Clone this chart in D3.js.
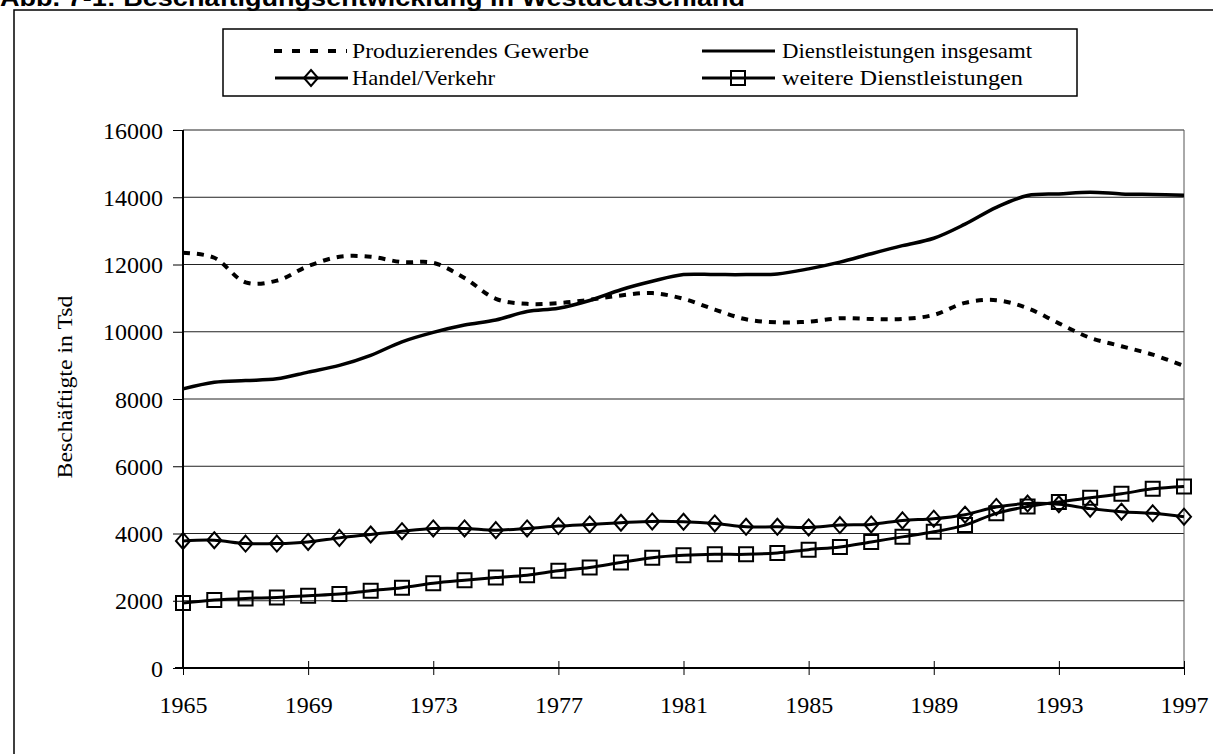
<!DOCTYPE html>
<html>
<head>
<meta charset="utf-8">
<script src="https://cdn.jsdelivr.net/npm/d3@7"></script>
<style>
  body { margin: 0; background: #fff; }
  svg { display: block; }
  text { font-family: "Liberation Serif", "Times New Roman", serif; fill: #000; }
</style>
</head>
<body>
<svg id="chart" width="1213" height="754"></svg>
<script>
// values (Tsd Beschäftigte)
var years = [1965, 1966, 1967, 1968, 1969, 1970, 1971, 1972, 1973, 1974, 1975, 1976, 1977, 1978, 1979, 1980, 1981,
             1982, 1983, 1984, 1985, 1986, 1987, 1988, 1989, 1990, 1991, 1992, 1993, 1994, 1995, 1996, 1997];

var produzierend = [12350, 12200, 11470, 11520, 11950, 12230, 12230, 12070, 12050, 11600, 10980, 10830, 10850, 10950, 11080, 11150, 10980,
                    10660, 10370, 10280, 10300, 10400, 10380, 10380, 10500, 10860, 10940, 10700, 10250, 9820, 9570, 9320, 8980];

var dienst = [8300, 8500, 8550, 8600, 8800, 9000, 9300, 9700, 9980, 10200, 10350, 10600, 10700, 10930, 11250, 11500, 11700,
              11700, 11700, 11720, 11870, 12070, 12320, 12560, 12780, 13200, 13700, 14050, 14100, 14150, 14100, 14080, 14060];

var handel = [3780, 3800, 3700, 3700, 3750, 3870, 3970, 4070, 4150, 4150, 4100, 4150, 4220, 4270, 4320, 4360, 4350,
              4300, 4200, 4200, 4180, 4250, 4270, 4390, 4440, 4560, 4790, 4890, 4870, 4740, 4650, 4600, 4500];

var weitere = [1930, 2020, 2070, 2100, 2150, 2200, 2300, 2390, 2520, 2610, 2690, 2760, 2890, 2990, 3140, 3280, 3350,
               3380, 3380, 3420, 3520, 3600, 3750, 3900, 4050, 4250, 4600, 4800, 4940, 5060, 5180, 5330, 5400];

var yTicks = [0, 2000, 4000, 6000, 8000, 10000, 12000, 14000, 16000];
var xTicks = [1965, 1969, 1973, 1977, 1981, 1985, 1989, 1993, 1997];

var svg = d3.select("#chart");

//title, cut off at the top of the scan
svg.append("text")
    .attr("x", 0)
    .attr("y", 6)
    .attr("textLength", 745)
    .attr("lengthAdjust", "spacingAndGlyphs")
    .style("font-family", "'Liberation Sans', Arial, sans-serif")
    .style("font-weight", "bold")
    .style("font-size", "24px")
    .text("Abb. 7-1: Beschäftigungsentwicklung in Westdeutschland");

//outer frame
svg.append("rect")
    .attr("x", 14).attr("y", 10)
    .attr("width", 1230).attr("height", 800)
    .attr("fill", "none")
    .attr("stroke", "#000")
    .attr("stroke-width", 1.5);

var x = d3.scaleLinear().domain([1965, 1997]).range([183, 1184]);
var y = d3.scaleLinear().domain([0, 16000]).range([668, 130]);

//grid
svg.append("g").selectAll("line")
    .data(yTicks.slice(1))
    .enter()
    .append("line")
    .attr("x1", x(1965)).attr("x2", x(1997))
    .attr("y1", function(d) { return y(d); })
    .attr("y2", function(d) { return y(d); })
    .attr("stroke", "#222")
    .attr("stroke-width", 1);

svg.append("line")
    .attr("x1", x(1997)).attr("x2", x(1997))
    .attr("y1", y(16000)).attr("y2", y(0))
    .attr("stroke", "#555")
    .attr("stroke-width", 1);

//axes
var yAxis = d3.axisLeft(y).tickValues(yTicks).tickFormat(d3.format("d")).tickSize(10).tickPadding(10);
var gy = svg.append("g")
    .attr("transform", "translate(" + x(1965) + ",0)")
    .call(yAxis);
gy.select(".domain").remove();
gy.selectAll("line").attr("stroke", "#000");
gy.append("line")
    .attr("y1", y(0)).attr("y2", y(16000))
    .attr("stroke", "#000").attr("stroke-width", 2);
gy.selectAll("text")
    .style("font-family", "'Liberation Serif', 'Times New Roman', serif")
    .style("font-size", "24px")
    .attr("dy", "0.34em");

var xAxis = d3.axisBottom(x).tickValues(xTicks).tickFormat(d3.format("d")).tickSize(7);
var gx = svg.append("g")
    .attr("transform", "translate(0," + y(0) + ")")
    .call(xAxis);
gx.select(".domain").remove();
gx.selectAll(".tick line").attr("y1", -7).attr("stroke", "#000");
gx.append("line")
    .attr("x1", x(1965) - 8).attr("x2", x(1997))
    .attr("stroke", "#000").attr("stroke-width", 2);
gx.selectAll("text")
    .style("font-family", "'Liberation Serif', 'Times New Roman', serif")
    .style("font-size", "24px")
    .attr("y", 45)
    .attr("dy", null);

svg.append("text")
    .attr("transform", "translate(72,387) rotate(-90)")
    .attr("text-anchor", "middle")
    .attr("textLength", 183)
    .attr("lengthAdjust", "spacingAndGlyphs")
    .style("font-size", "22px")
    .text("Beschäftigte in Tsd");

//lines
var line = function(vals) {
    return d3.line()
        .x(function(d, i) { return x(years[i]); })
        .y(function(d) { return y(d); })
        .curve(d3.curveCatmullRom.alpha(0.5))(vals);
};

svg.append("path")
    .attr("d", line(dienst))
    .attr("fill", "none").attr("stroke", "#000").attr("stroke-width", 3.5);

svg.append("path")
    .attr("d", line(produzierend))
    .attr("fill", "none").attr("stroke", "#000").attr("stroke-width", 4)
    .attr("stroke-dasharray", "7,7");

svg.append("path")
    .attr("d", line(weitere))
    .attr("fill", "none").attr("stroke", "#000").attr("stroke-width", 3);

svg.append("path")
    .attr("d", line(handel))
    .attr("fill", "none").attr("stroke", "#000").attr("stroke-width", 3);

var diamond = "M0,-8L7,0L0,8L-7,0Z";
var square = "M-7,-7H7V7H-7Z";

svg.append("g").selectAll("path")
    .data(handel)
    .enter()
    .append("path")
    .attr("d", diamond)
    .attr("transform", function(d, i) { return "translate(" + x(years[i]) + "," + y(d) + ")"; })
    .attr("fill", "none").attr("stroke", "#000").attr("stroke-width", 2);

svg.append("g").selectAll("path")
    .data(weitere)
    .enter()
    .append("path")
    .attr("d", square)
    .attr("transform", function(d, i) { return "translate(" + x(years[i]) + "," + y(d) + ")"; })
    .attr("fill", "none").attr("stroke", "#000").attr("stroke-width", 2);

//legend
var legend = svg.append("g");
legend.append("rect")
    .attr("x", 223).attr("y", 29)
    .attr("width", 854).attr("height", 67)
    .attr("fill", "#fff")
    .attr("stroke", "#000").attr("stroke-width", 1.5);

var items = [
    {name: "Produzierendes Gewerbe", lx: 274, ly: 51, tx: 352, ty: 58, w: 237, dash: "8,10", mark: null},
    {name: "Dienstleistungen insgesamt", lx: 702, ly: 51, tx: 782, ty: 58, w: 250, dash: null, mark: null},
    {name: "Handel/Verkehr", lx: 275, ly: 78, tx: 352, ty: 85, w: 143, dash: null, mark: diamond},
    {name: "weitere Dienstleistungen", lx: 702, ly: 78, tx: 782, ty: 85, w: 241, dash: null, mark: square}
];

items.forEach(function(it) {
    legend.append("line")
        .attr("x1", it.lx).attr("x2", it.lx + 73)
        .attr("y1", it.ly).attr("y2", it.ly)
        .attr("stroke", "#000")
        .attr("stroke-width", it.dash ? 4 : 3)
        .attr("stroke-dasharray", it.dash);
    if (it.mark) {
        legend.append("path")
            .attr("d", it.mark)
            .attr("transform", "translate(" + (it.lx + 36) + "," + it.ly + ")")
            .attr("fill", "none").attr("stroke", "#000").attr("stroke-width", 2);
    }
    legend.append("text")
        .attr("x", it.tx).attr("y", it.ty)
        .attr("textLength", it.w)
        .attr("lengthAdjust", "spacingAndGlyphs")
        .style("font-size", "22px")
        .text(it.name);
});
</script>
</body>
</html>
